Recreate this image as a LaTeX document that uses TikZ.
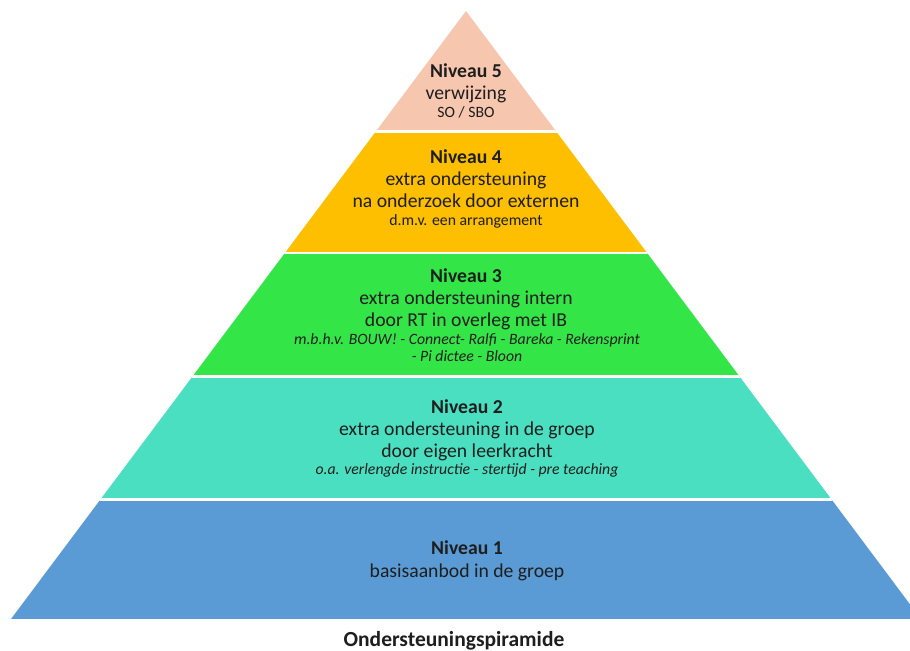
\documentclass[tikz,border=0pt]{standalone}
\usepackage{fontspec}
\setmainfont{Carlito}
\usepackage{tikz}
\definecolor{peach}{HTML}{F6C6AE}
\definecolor{amber}{HTML}{FDBF00}
\definecolor{lime}{HTML}{33E547}
\definecolor{aqua}{HTML}{4ADFC0}
\definecolor{sky}{HTML}{5B9BD5}
\definecolor{ink}{HTML}{1E1E1E}
\newcommand\mainsize{\fontsize{14pt}{16pt}\selectfont}
\newcommand\smallsize{\fontsize{11.2pt}{13pt}\selectfont}
\newcommand\titlesize{\fontsize{15.3pt}{17pt}\selectfont}

\begin{document}
\begin{tikzpicture}[x=0.025cm,y=-0.025cm,
  head/.style={anchor=base,font=\mainsize\bfseries,text=ink,inner sep=0pt},
  line/.style={anchor=base,font=\mainsize,text=ink,inner sep=0pt},
  note/.style={anchor=base,font=\smallsize,text=ink,inner sep=0pt},
  notei/.style={anchor=base,font=\smallsize\itshape,text=ink,inner sep=0pt},
  gap/.style={white,line width=1.8pt}]
\useasboundingbox (0,0) rectangle (910,651);
\begin{scope}
\clip (466,11) -- (921,619) -- (11,619) -- cycle;
\fill[peach] (0,0) rectangle (910,131.5);
\fill[amber] (0,131.5) rectangle (910,253);
\fill[lime] (0,253) rectangle (910,376.5);
\fill[aqua] (0,376.5) rectangle (910,499.5);
\fill[sky] (0,499.5) rectangle (910,619);
\draw[gap] (0,131.5) -- (910,131.5);
\draw[gap] (0,253) -- (910,253);
\draw[gap] (0,376.5) -- (910,376.5);
\draw[gap] (0,499.5) -- (910,499.5);
\end{scope}
\node[head] (n5) at (466,77) {Niveau 5};
\node[line] (n5a) at (466,99) {verwijzing};
\node[note] (n5b) at (466,117) {SO / SBO};
\node[head] (n4) at (466,163) {Niveau 4};
\node[line] (n4a) at (466,185) {extra ondersteuning};
\node[line] (n4b) at (466,207) {na onderzoek door externen};
\node[note] (n4c) at (466,225) {d.m.v. een arrangement};
\node[head] (n3) at (466,282) {Niveau 3};
\node[line] (n3a) at (466,304) {extra ondersteuning intern};
\node[line] (n3b) at (466,326) {door RT in overleg met IB};
\node[notei] (n3c) at (467,344) {m.b.h.v. BOUW! - Connect- Ralfi - Bareka - Rekensprint};
\node[notei] (n3d) at (467,361) {- Pi dictee - Bloon};
\node[head] (n2) at (467,413) {Niveau 2};
\node[line] (n2a) at (467,435) {extra ondersteuning in de groep};
\node[line] (n2b) at (467,457) {door eigen leerkracht};
\node[notei] (n2c) at (467,474) {o.a. verlengde instructie - stertijd - pre teaching};
\node[head] (n1) at (467,554) {Niveau 1};
\node[line] (n1a) at (467,577) {basisaanbod in de groep};
\node[head,font=\titlesize\bfseries] (title) at (454,646) {Ondersteuningspiramide};
\end{tikzpicture}
\end{document}
